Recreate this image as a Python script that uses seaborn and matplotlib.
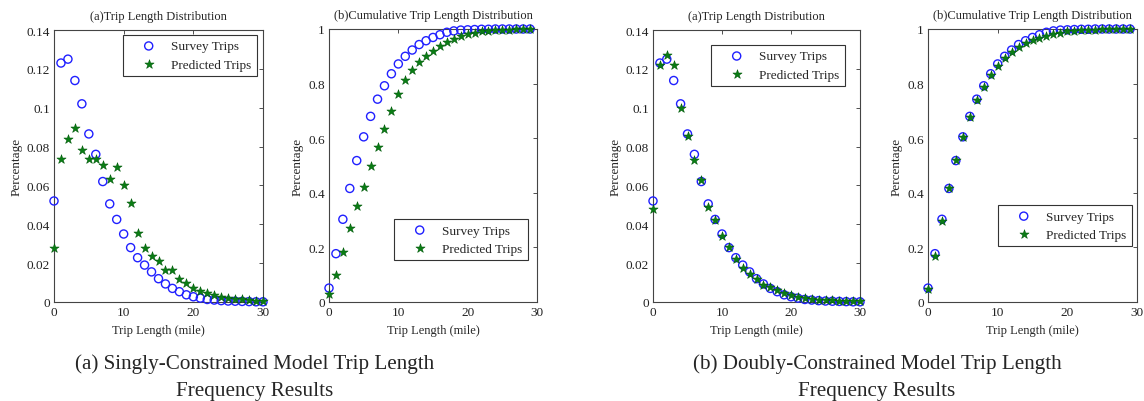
import numpy as np
import pandas as pd
import matplotlib
matplotlib.use("Agg")
import matplotlib.pyplot as plt
import seaborn as sns
from matplotlib.ticker import FormatStrFormatter

# Trip length distribution (x = 0..30 miles)
dist_len = list(range(31))
survey_dist = [0.052, 0.123, 0.125, 0.114, 0.102, 0.0865, 0.076, 0.062, 0.0505, 0.0425,
               0.035, 0.028, 0.0228, 0.019, 0.0155, 0.012, 0.0093, 0.007, 0.0053, 0.0037,
               0.0027, 0.002, 0.0013, 0.001, 0.0007, 0.0005, 0.0004, 0.0003, 0.0002, 0.0001, 0.0001]
single_pred_dist = [0.0278, 0.0734, 0.0837, 0.0897, 0.078, 0.0734, 0.0734, 0.0705, 0.0635, 0.0695,
                    0.0604, 0.0511, 0.0357, 0.028, 0.0237, 0.0211, 0.0165, 0.0165, 0.012, 0.0096,
                    0.0072, 0.0055, 0.0045, 0.0034, 0.0027, 0.0022, 0.0017, 0.0014, 0.001, 0.0007, 0.0005]
double_pred_dist = [0.048, 0.122, 0.127, 0.122, 0.0999, 0.0854, 0.0729, 0.0626, 0.049, 0.0422,
                    0.034, 0.0285, 0.022, 0.0175, 0.0144, 0.0117, 0.0089, 0.0079, 0.0062, 0.0048,
                    0.0038, 0.0027, 0.002, 0.0015, 0.0012, 0.001, 0.0008, 0.0006, 0.0005, 0.0004, 0.0003]

# Cumulative distribution (x = 0..29 miles)
cum_len = list(range(30))
survey_cum = [0.051, 0.177, 0.303, 0.416, 0.518, 0.605, 0.68, 0.743, 0.792, 0.836,
              0.872, 0.90, 0.923, 0.943, 0.957, 0.969, 0.979, 0.988, 0.993, 0.996,
              0.997, 0.998, 0.999, 0.999, 1.0, 1.0, 1.0, 1.0, 1.0, 1.0]
single_pred_cum = [0.03, 0.10, 0.183, 0.271, 0.352, 0.423, 0.499, 0.567, 0.633, 0.699,
                   0.763, 0.814, 0.85, 0.878, 0.90, 0.92, 0.936, 0.951, 0.963, 0.973,
                   0.981, 0.987, 0.991, 0.994, 0.996, 0.997, 0.998, 0.999, 0.999, 1.0]
double_pred_cum = [0.048, 0.170, 0.297, 0.419, 0.519, 0.604, 0.677, 0.740, 0.789, 0.831,
                   0.865, 0.893, 0.915, 0.933, 0.947, 0.959, 0.968, 0.976, 0.982, 0.987,
                   0.991, 0.993, 0.995, 0.997, 0.998, 0.999, 0.999, 1.0, 1.0, 1.0]

sns.set_style("white")
plt.rcParams['font.family'] = ['Liberation Serif', 'DejaVu Serif']
plt.rcParams['xtick.direction'] = 'in'
plt.rcParams['ytick.direction'] = 'in'

W, H = 1144, 402
fig = plt.figure(figsize=(W / 100, H / 100), dpi=100)

def px_axes(x0, x1, ytop, ybot):
    return fig.add_axes([x0 / W, (H - ybot) / H, (x1 - x0) / W, (ybot - ytop) / H])

panels = [
    # x0, x1, ytop, ybot, kind, predicted, legend anchor (axes fraction, upper left)
    (54, 263, 31, 303, "dist", single_pred_dist, (0.33, 0.982)),
    (329, 537, 30, 303, "cum", single_pred_cum, (0.3125, 0.304)),
    (653, 860, 31, 303, "dist", double_pred_dist, (0.28, 0.945)),
    (928, 1137, 30, 303, "cum", double_pred_cum, (0.335, 0.355)),
]

for x0, x1, ytop, ybot, kind, pred, anchor in panels:
    ax = px_axes(x0, x1, ytop, ybot)
    if kind == "dist":
        xs, surv = dist_len, survey_dist
    else:
        xs, surv = cum_len, survey_cum
    sns.scatterplot(x=xs, y=surv, ax=ax, marker='o', s=34, facecolor='none',
                    edgecolor='#2020ff', linewidth=1.0, label='Survey Trips', clip_on=False, zorder=3)
    sns.scatterplot(x=xs, y=pred, ax=ax, marker='*', s=48, color='#0a7d14',
                    edgecolor='#005a0a', linewidth=0.4, label='Predicted Trips', clip_on=False, zorder=4)
    ax.set_xlim(0, 30)
    ax.set_xticks([0, 10, 20, 30])
    if kind == "dist":
        ax.set_ylim(0, 0.14)
        ax.set_yticks(np.arange(0, 0.141, 0.02))
        ax.set_title("(a)Trip Length Distribution", fontsize=9, pad=8)
    else:
        ax.set_ylim(0, 1)
        ax.set_yticks([0, 0.2, 0.4, 0.6, 0.8, 1.0])
        ax.set_title("(b)Cumulative Trip Length Distribution", fontsize=9, pad=8)
    ax.yaxis.set_major_formatter(FormatStrFormatter('%g'))
    ax.tick_params(axis='both', labelsize=9.5, length=3, width=0.6, top=True, right=True,
                   colors='#333333', labelcolor='#222222', pad=3)
    for s in ax.spines.values():
        s.set_color('#444444')
        s.set_linewidth(0.8)
    ax.set_xlabel("Trip Length (mile)", fontsize=9, labelpad=4)
    ax.set_ylabel("Percentage", fontsize=9.5, labelpad=3)
    leg = ax.legend(loc='upper left', bbox_to_anchor=anchor, borderaxespad=0, fontsize=9.5,
                    frameon=True, fancybox=False, framealpha=1, edgecolor='#333333',
                    handletextpad=0.15, borderpad=0.4, labelspacing=0.45, handlelength=3.1)
    leg.get_frame().set_linewidth(0.8)

cap_kw = dict(ha='center', va='baseline', fontsize=15.2)
fig.text(255 / W, 1 - 369 / H, "(a) Singly-Constrained Model Trip Length", **cap_kw)
fig.text(255 / W, 1 - 396 / H, "Frequency Results", **cap_kw)
fig.text(877 / W, 1 - 369 / H, "(b) Doubly-Constrained Model Trip Length", **cap_kw)
fig.text(877 / W, 1 - 396 / H, "Frequency Results", **cap_kw)

fig.savefig("out.png", dpi=100)
